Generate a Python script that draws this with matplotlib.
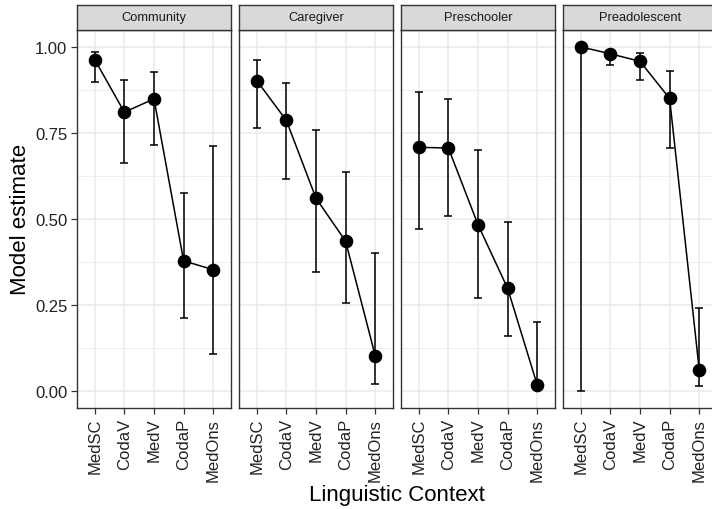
import matplotlib
matplotlib.use('Agg')
import matplotlib.pyplot as plt
import numpy as np

plt.rcParams['font.family'] = ['Liberation Sans', 'DejaVu Sans']

# categories on the x axis (same for every panel)
contexts = ['MedSC', 'CodaV', 'MedV', 'CodaP', 'MedOns']
groups = ['Community', 'Caregiver', 'Preschooler', 'Preadolescent']

# model estimates with lower / upper interval bounds
community_est = [0.963, 0.810, 0.849, 0.378, 0.352]
community_lo = [0.899, 0.662, 0.715, 0.213, 0.108]
community_hi = [0.986, 0.904, 0.928, 0.575, 0.711]

caregiver_est = [0.902, 0.786, 0.560, 0.435, 0.102]
caregiver_lo = [0.764, 0.615, 0.344, 0.256, 0.019]
caregiver_hi = [0.963, 0.894, 0.757, 0.635, 0.400]

preschooler_est = [0.708, 0.706, 0.483, 0.298, 0.017]
preschooler_lo = [0.471, 0.508, 0.271, 0.159, 0.005]
preschooler_hi = [0.870, 0.848, 0.701, 0.491, 0.199]

preadolescent_est = [1.000, 0.980, 0.958, 0.850, 0.061]
preadolescent_lo = [0.000, 0.948, 0.903, 0.705, 0.013]
preadolescent_hi = [1.000, 0.992, 0.982, 0.931, 0.241]

estimates = [community_est, caregiver_est, preschooler_est, preadolescent_est]
lowers = [community_lo, caregiver_lo, preschooler_lo, preadolescent_lo]
uppers = [community_hi, caregiver_hi, preschooler_hi, preadolescent_hi]

W, H = 712, 510
fig = plt.figure(figsize=(W / 100, H / 100), dpi=100)

panel_lefts = [77, 239, 401, 563]
panel_w = 154
panel_top, panel_bot = 30.7, 409
strip_top = 6

border = '#333333'
grid_col = '#EBEBEB'

for i, g in enumerate(groups):
    x0 = panel_lefts[i]
    ax = fig.add_axes([x0 / W, (H - panel_bot) / H, panel_w / W, (panel_bot - panel_top) / H])
    xs = np.arange(len(contexts))
    est = np.array(estimates[i])
    lo = np.array(lowers[i])
    hi = np.array(uppers[i])

    ax.errorbar(xs, est, yerr=[est - lo, hi - est], fmt='none', ecolor='black',
                elinewidth=1.1, capsize=3, capthick=1.1, zorder=3)
    ax.plot(xs, est, color='black', lw=1.1, zorder=3)
    ax.plot(xs, est, 'o', color='black', markersize=8.8, zorder=4)

    ax.set_xlim(-0.6, len(contexts) - 0.4)
    ax.set_ylim(-0.05, 1.05)
    ax.set_yticks([0, 0.25, 0.5, 0.75, 1.0])
    ax.set_yticks([0.125, 0.375, 0.625, 0.875], minor=True)
    ax.set_xticks(xs)
    ax.set_xticklabels(contexts, rotation=90, fontsize=12)
    ax.grid(True, which='major', color=grid_col, lw=1.1, zorder=0)
    ax.grid(True, which='minor', axis='y', color=grid_col, lw=0.6, zorder=0)
    ax.set_axisbelow(True)
    ax.tick_params(axis='both', which='major', length=4, width=0.9, color=border,
                   labelcolor='#222222', pad=3)
    ax.tick_params(axis='y', which='minor', length=0)
    if i == 0:
        ax.set_yticklabels(['0.00', '0.25', '0.50', '0.75', '1.00'], fontsize=12)
        ax.set_ylabel('Model estimate', fontsize=16, labelpad=3)
    else:
        ax.tick_params(axis='y', which='major', length=0, labelleft=False)
    for sp in ax.spines.values():
        sp.set_color(border)
        sp.set_linewidth(1.0)

    # facet strip
    sax = fig.add_axes([x0 / W, (H - panel_top) / H, panel_w / W, (panel_top - strip_top) / H])
    sax.set_facecolor('#D9D9D9')
    sax.set_xticks([])
    sax.set_yticks([])
    for sp in sax.spines.values():
        sp.set_color(border)
        sp.set_linewidth(1.0)
    sax.text(0.5, 0.5, g, ha='center', va='center', fontsize=9.3, color='#1A1A1A',
             transform=sax.transAxes)

fig.text((77 + 717) / 2 / W, 1 - 496 / H, 'Linguistic Context', ha='center', va='center', fontsize=16)

fig.savefig('out.png', dpi=100)
